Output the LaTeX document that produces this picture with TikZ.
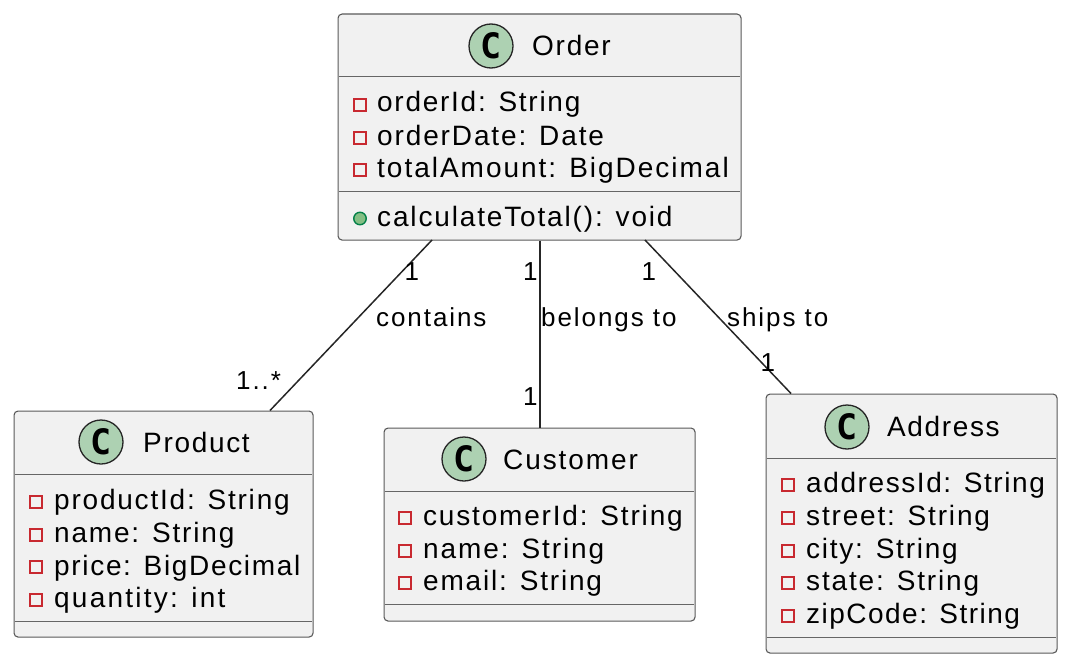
\documentclass[tikz,border=0pt]{standalone}
\usepackage{fontspec}
\setmainfont{Liberation Sans}
\newfontfamily\iconfont{DejaVu Sans Mono}[Scale=1]
\tikzset{
  x=1pt,y=-1pt,
  classbox/.style={draw=black!65,line width=1.1pt,fill=boxgray,rounded corners=4pt,anchor=north west,inner sep=0pt,minimum width=#1},
  divider/.style={draw=black!60,line width=1pt},
  rel/.style={draw=black!85,line width=1.5pt},
  member/.style={anchor=base west,inner sep=0pt,text=black,font=\fontsize{28}{30}\selectfont\addfontfeature{LetterSpace=#1}},
  member/.default=6,
  lbl/.style={anchor=base west,inner sep=0pt,text=black,font=\fontsize{26}{28}\selectfont\addfontfeature{LetterSpace=#1}},
  lbl/.default=7.4,
  icon/.style={circle,draw=black!85,line width=1.3pt,fill=icongreen,minimum size=44pt,inner sep=0pt,font=\iconfont\bfseries\fontsize{35}{35}\selectfont},
  priv/.style={draw=privred,line width=1.5pt,fill=none,minimum size=12pt,inner sep=0pt},
  pub/.style={circle,draw=pubgreen,line width=1.4pt,fill=pubfill,minimum size=12.5pt,inner sep=0pt},
}
\definecolor{boxgray}{HTML}{F1F1F1}
\definecolor{icongreen}{HTML}{ADD1B2}
\definecolor{privred}{HTML}{C82930}
\definecolor{pubgreen}{HTML}{038048}
\definecolor{pubfill}{HTML}{84BE84}
\begin{document}
\begin{tikzpicture}
\useasboundingbox (0,0) rectangle (1070,666);
% boxes
\node[classbox=403pt,minimum height=226pt] (order) at (337.5,13.5) {};
\node[classbox=299pt,minimum height=226pt] (product) at (13.5,410.5) {};
\node[classbox=311pt,minimum height=193pt] (customer) at (383.5,427.5) {};
\node[classbox=291pt,minimum height=259pt] (address) at (765.5,393.5) {};
% connector ends
\coordinate (oP) at (432,240);
\coordinate (oA) at (645,240);
\coordinate (pO) at (270,410.5);
\coordinate (aO) at (791,393.5);
\draw[rel] (oP) -- (pO);
\draw[rel] ([xshift=0.5pt]order.south) -- ([xshift=0.5pt]order.south |- customer.north);
\draw[rel] (oA) -- (aO);
% Order
\node[icon] (ic1) at (491,46) {C};
\node[member=6.3] (t1) at (532,56) {Order};
\draw[divider] (338.5,77) -- (739.5,77);
\node[priv] (o1) at (360,105) {}; \node[member=6.2] (m1) at (377,112) {orderId: String};
\node[priv] (o2) at (360,138) {}; \node[member=6.7] (m2) at (377,145) {orderDate: Date};
\node[priv] (o3) at (360,170) {}; \node[member=7.1] (m3) at (377,177) {totalAmount: BigDecimal};
\draw[divider] (338.5,191) -- (739.5,191);
\node[pub] (o4) at (360,218.5) {}; \node[member=6.6] (m4) at (377,226) {calculateTotal(): void};
% Product
\node[icon] (ic2) at (101,442) {C};
\node[member] (t2) at (143,452) {Product};
\draw[divider] (14.5,474) -- (311.5,474);
\node[priv] (p1) at (36,502) {}; \node[member=6.4] (n1) at (54,509) {productId: String};
\node[priv] (p2) at (36,535) {}; \node[member=6.5] (n2) at (54,542) {name: String};
\node[priv] (p3) at (36,567) {}; \node[member] (n3) at (54,575) {price: BigDecimal};
\node[priv] (p4) at (36,600) {}; \node[member=8] (n4) at (54,607) {quantity: int};
\draw[divider] (14.5,621) -- (311.5,621);
% Customer
\node[icon] (ic3) at (464,459) {C};
\node[member=6.8] (t3) at (503,469) {Customer};
\draw[divider] (384.5,491) -- (693.5,491);
\node[priv] (c1) at (405,518) {}; \node[member=6.5] (d1) at (423,525) {customerId: String};
\node[priv] (c2) at (405,551) {}; \node[member=6.8] (d2) at (423,558) {name: String};
\node[priv] (c3) at (405,583) {}; \node[member=6.5] (d3) at (423,590) {email: String};
\draw[divider] (384.5,604) -- (693.5,604);
% Address
\node[icon] (ic4) at (847,427) {C};
\node[member=5.8] (t4) at (887,436) {Address};
\draw[divider] (766.5,458) -- (1055.5,458);
\node[priv] (a1) at (788,485) {}; \node[member=5.7] (e1) at (806,492) {addressId: String};
\node[priv] (a2) at (788,518) {}; \node[member=6.5] (e2) at (806,525) {street: String};
\node[priv] (a3) at (788,551) {}; \node[member=6.3] (e3) at (806,558) {city: String};
\node[priv] (a4) at (788,583) {}; \node[member=6.6] (e4) at (806,590) {state: String};
\node[priv] (a5) at (788,616) {}; \node[member=5.3] (e5) at (806,623) {zipCode: String};
\draw[divider] (766.5,637) -- (1055.5,637);
% labels
\node[lbl] (l1) at (376,326.5) {contains};
\node[lbl] (l2) at (541,326.5) {belongs to};
\node[lbl] (l3) at (727,326.5) {ships to};
\node[lbl] (l4) at (404.5,280) {1};
\node[lbl] (l5) at (523,280) {1};
\node[lbl] (l6) at (641.5,280) {1};
\node[lbl] (l7) at (236,389) {1..*};
\node[lbl] (l8) at (523,405) {1};
\node[lbl] (l9) at (760.5,371) {1};
\end{tikzpicture}
\end{document}
